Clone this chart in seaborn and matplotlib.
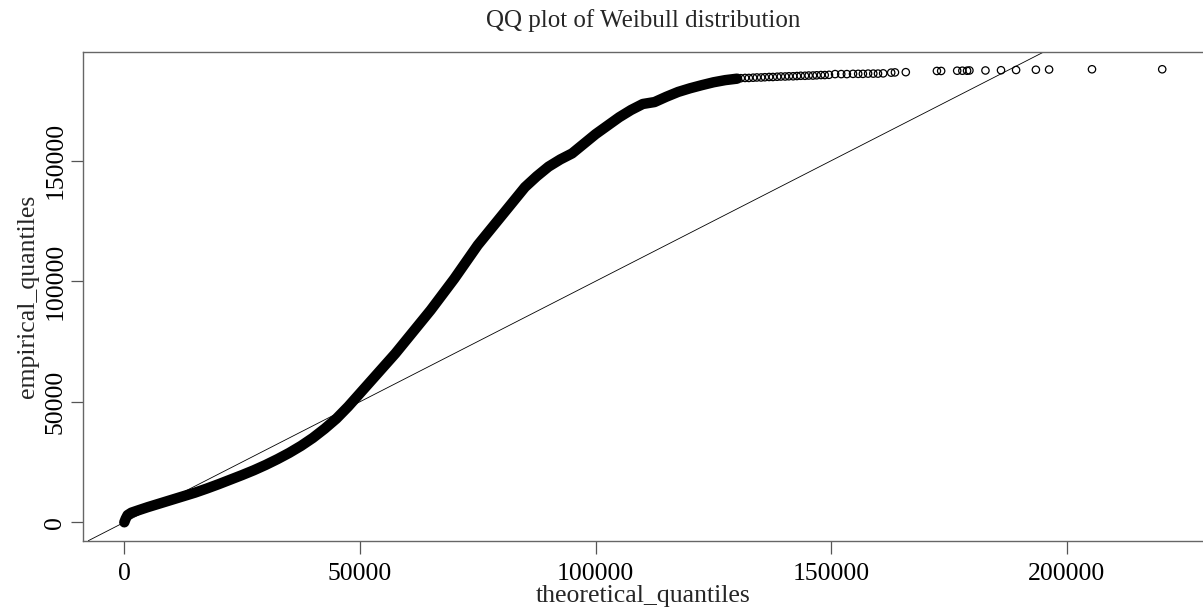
import numpy as np
import pandas as pd
import matplotlib
matplotlib.use("Agg")
import matplotlib.pyplot as plt
import seaborn as sns

# ---- data ----
title_text = "QQ plot of Weibull distribution"
x_label = "theoretical_quantiles"
y_label = "empirical_quantiles"

# dense part of the QQ curve (theoretical, empirical)
dense_theoretical = [0, 300, 700, 1500, 3000, 5000, 7500, 10000, 12500, 15000,
                     17500, 20000, 22500, 25000, 27500, 30000, 32500, 35000, 37500, 40000,
                     42500, 45000, 47500, 50000, 52500, 55000, 57500, 60000, 62500, 65000,
                     67500, 70000, 72500, 75000, 77500, 80000, 82500, 85000, 87500, 90000,
                     92500, 95000, 97500, 100000, 102500, 105000, 107500, 110000, 112500, 115000,
                     117500, 120000, 122500, 125000, 127500, 130000]
dense_empirical = [0, 1500, 3000, 4000, 5000, 6300, 7800, 9300, 10800, 12300,
                   14000, 15800, 17700, 19600, 21600, 23800, 26200, 28800, 31700, 35000,
                   38800, 43000, 48000, 53500, 59000, 64500, 70000, 76000, 82000, 88000,
                   94500, 101000, 108000, 115000, 121000, 127000, 133000, 139000, 143500, 147500,
                   150500, 153000, 157000, 161000, 164500, 168000, 171000, 173500, 174300, 176500,
                   178500, 180000, 181300, 182500, 183400, 184000]

# sparse upper tail, individual open circles
tail_theoretical = [130800, 131700, 132500, 133400, 134200, 135100, 135900, 136800, 137600, 138500,
                    139300, 140200, 141000, 141900, 142700, 143500, 144400, 145200, 146100, 146900,
                    147800, 148600, 149500, 150800, 152100, 153300, 154600, 155700, 156700, 157800,
                    158900, 159900, 161000, 162700, 163500, 165800, 172400, 173300, 176700, 177800,
                    178800, 179300, 182700, 186000, 189200, 193400, 196200, 205300, 220200]
tail_empirical = [184200, 184300, 184300, 184400, 184500, 184500, 184600, 184700, 184700, 184800,
                  184900, 184900, 185000, 185000, 185100, 185200, 185200, 185300, 185300, 185400,
                  185500, 185500, 185600, 185900, 185900, 185900, 186000, 186000, 186000, 186100,
                  186100, 186100, 186200, 186500, 186600, 186700, 187200, 187200, 187300, 187300,
                  187300, 187400, 187400, 187500, 187600, 187700, 187800, 187900, 187900]

x_ticks = [0, 50000, 100000, 150000, 200000]
y_ticks = [0, 50000, 100000, 150000]
ref_intercept = 0
ref_slope = 1

dense_df = pd.DataFrame({"theoretical": dense_theoretical, "empirical": dense_empirical})
tail_df = pd.DataFrame({"theoretical": tail_theoretical, "empirical": tail_empirical})

# ---- styling ----
sns.set_theme(style="white")
plt.rcParams["font.family"] = ["Liberation Serif", "DejaVu Serif"]

W, H, DPI = 1203, 616, 100
fig = plt.figure(figsize=(W / DPI, H / DPI), dpi=DPI)
ax = fig.add_axes([83 / W, 1 - 540.7 / H, (1203.5 - 83) / W, (540.7 - 51.5) / H])

sns.lineplot(data=dense_df, x="theoretical", y="empirical", ax=ax, sort=False,
             estimator=None, color="black", linewidth=7.5, solid_capstyle="round")
sns.scatterplot(data=tail_df, x="theoretical", y="empirical", ax=ax, marker="o",
                facecolor="none", edgecolor="black", linewidth=0.9, s=28)
ax.axline((0, ref_intercept), slope=ref_slope, color="black", linewidth=0.6)

ax.set_xlim(-8762, 228960)
ax.set_ylim(-7630, 195270)
ax.set_xticks(x_ticks)
ax.set_yticks(y_ticks)
ax.set_xticklabels([str(v) for v in x_ticks])
ax.set_yticklabels([str(v) for v in y_ticks], rotation=90, va="center")

fs = 18.5
ax.tick_params(axis="both", direction="out", length=9, width=0.9, color="#555555",
               labelsize=fs, labelcolor="black", bottom=True, left=True)
ax.tick_params(axis="x", pad=7)
ax.tick_params(axis="y", pad=3)
for sp in ax.spines.values():
    sp.set_color("#666666")
    sp.set_linewidth(1.0)

ax.set_xlabel(x_label, fontsize=fs, labelpad=0)
ax.set_ylabel(y_label, fontsize=fs, labelpad=4)
ax.set_title(title_text, fontsize=18, pad=18)

fig.savefig("out.png", dpi=DPI)
